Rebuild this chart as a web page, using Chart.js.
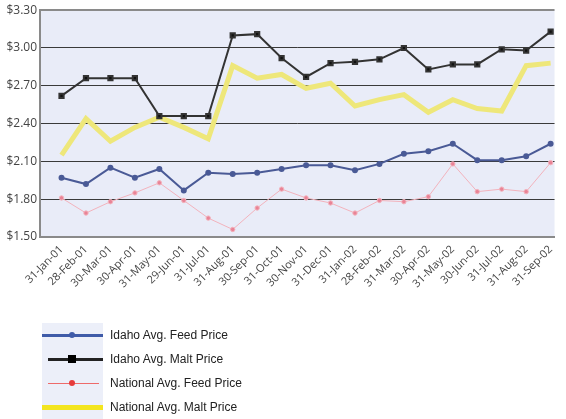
<!DOCTYPE html>
<html lang="en">
<head>
<meta charset="UTF-8">
<script src="https://cdn.jsdelivr.net/npm/chart.js@4.4.0/dist/chart.umd.min.js"></script>
<title>Barley prices</title>
<style>
  body { margin: 0; background: #fff; }
  #wrap { position: relative; width: 566px; height: 419px; }
  #legend { position: absolute; left: 42px; top: 323px; font-family: "Liberation Sans", Arial, sans-serif; font-size: 12px; color: #222; }
  .row { display: flex; align-items: center; height: 24px; }
  .sw { position: relative; width: 61px; height: 24px; background: #eceff9; }
  .sw .ln { position: absolute; top: 50%; }
  .sw .mk { position: absolute; top: 50%; left: 30px; }
  .lbl { margin-left: 7px; }
</style>
</head>
<body>
<div id="wrap">
  <canvas id="myChart" width="566" height="419"></canvas>
  <div id="legend"></div>
</div>
<script>
// month-end dates
var dates = ['31-Jan-01', '28-Feb-01', '30-Mar-01', '30-Apr-01', '31-May-01', '29-Jun-01',
  '31-Jul-01', '31-Aug-01', '30-Sep-01', '31-Oct-01', '30-Nov-01', '31-Dec-01',
  '31-Jan-02', '28-Feb-02', '31-Mar-02', '30-Apr-02', '31-May-02', '30-Jun-02',
  '31-Jul-02', '31-Aug-02', '31-Sep-02'];

var idahoFeed = [1.97, 1.92, 2.05, 1.97, 2.04, 1.87, 2.01, 2.00, 2.01, 2.04, 2.07, 2.07,
  2.03, 2.08, 2.16, 2.18, 2.24, 2.11, 2.11, 2.14, 2.24];
var idahoMalt = [2.62, 2.76, 2.76, 2.76, 2.46, 2.46, 2.46, 3.10, 3.11, 2.92, 2.77, 2.88,
  2.89, 2.91, 3.00, 2.83, 2.87, 2.87, 2.99, 2.98, 3.13];
var natFeed = [1.81, 1.69, 1.78, 1.85, 1.93, 1.79, 1.65, 1.56, 1.73, 1.88, 1.81, 1.77,
  1.69, 1.79, 1.78, 1.82, 2.08, 1.86, 1.88, 1.86, 2.09];
var natMalt = [2.15, 2.44, 2.26, 2.37, 2.45, 2.37, 2.28, 2.86, 2.76, 2.79, 2.68, 2.72,
  2.54, 2.59, 2.63, 2.49, 2.59, 2.52, 2.50, 2.86, 2.88];

var yTicks = [1.5, 1.8, 2.1, 2.4, 2.7, 3.0, 3.3];

function pts(arr) {
  return arr.map(function (v, i) { return { x: i, y: v }; });
}

// plot background
var bgPlugin = {
  id: 'bg',
  beforeDraw: function (chart) {
    var a = chart.chartArea, c = chart.ctx;
    c.save();
    c.fillStyle = '#e9ecf8';
    c.fillRect(a.left, a.top, a.right - a.left, a.bottom - a.top);
    c.restore();
  }
};

var ctx = document.getElementById('myChart').getContext('2d');
var myChart = new Chart(ctx, {
  type: 'line',
  data: {
    datasets: [{
      label: 'Idaho Avg. Feed Price',
      data: pts(idahoFeed),
      borderColor: '#4a5a96',
      backgroundColor: '#4a5a96',
      borderWidth: 2,
      pointRadius: 2,
      pointStyle: 'circle'
    }, {
      label: 'Idaho Avg. Malt Price',
      data: pts(idahoMalt),
      borderColor: '#333',
      backgroundColor: '#111',
      borderWidth: 2,
      pointRadius: 3,
      pointStyle: 'rect'
    }, {
      label: 'National Avg. Feed Price',
      data: pts(natFeed),
      borderColor: '#f3b3bd',
      backgroundColor: '#e98396',
      borderWidth: 1,
      pointRadius: 2.2,
      pointStyle: 'circle'
    }, {
      label: 'National Avg. Malt Price',
      data: pts(natMalt),
      borderColor: '#eee77a',
      borderWidth: 5,
      pointRadius: 0
    }]
  },
  options: {
    responsive: false,
    animation: false,
    layout: { padding: { top: -2, right: 0, left: 0, bottom: 0 } },
    plugins: { legend: { display: false }, tooltip: { enabled: false } },
    scales: {
      x: {
        type: 'linear',
        min: -0.88,
        max: 20.16,
        afterBuildTicks: function (axis) {
          axis.ticks = dates.map(function (d, i) { return { value: i }; });
        },
        afterFit: function (axis) { axis.height = 182; },
        grid: { display: true, drawOnChartArea: false, drawTicks: false },
        border: { display: true, color: '#8a8a8a', width: 2 },
        ticks: {
          autoSkip: false,
          minRotation: 45,
          maxRotation: 45,
          padding: 6,
          color: '#444',
          font: { family: 'Open Sans', size: 11 },
          callback: function (v) { return dates[v]; }
        }
      },
      y: {
        min: 1.5,
        max: 3.3,
        afterBuildTicks: function (axis) {
          axis.ticks = yTicks.map(function (v) { return { value: v }; });
        },
        afterFit: function (axis) { axis.width = 40; },
        grid: {
          drawTicks: false,
          color: function (c) { return (c.tick && (c.tick.value === 3.3 || c.tick.value === 1.5)) ? '#8a8a8a' : '#3a3a3a'; },
          lineWidth: function (c) { return (c.tick && (c.tick.value === 3.3 || c.tick.value === 1.5)) ? 2 : 1; }
        },
        border: { display: true, color: '#8a8a8a', width: 2 },
        ticks: {
          padding: 3,
          color: '#444',
          font: { family: 'Open Sans', size: 12 },
          callback: function (v) { return '$' + v.toFixed(2); }
        }
      }
    }
  },
  plugins: [bgPlugin]
});

// html legend
var legendSpec = [
  { line: 'height:3px;left:0;right:0;margin-top:-1.5px;background:#3f5ba8', mk: 'width:6px;height:6px;border-radius:3px;margin:-3px 0 0 -3px;background:#3f5ba8' },
  { line: 'height:3px;left:6px;right:0;margin-top:-1.5px;background:#222', mk: 'width:8px;height:8px;margin:-4px 0 0 -4px;background:#000' },
  { line: 'height:1px;left:6px;right:4px;margin-top:-0.5px;background:#ee6a6a', mk: 'width:6px;height:6px;border-radius:3px;margin:-3px 0 0 -3px;background:#e63b3b' },
  { line: 'height:5px;left:0;right:0;margin-top:-2.5px;background:#f3e520', mk: 'display:none' }
];
var lg = document.getElementById('legend');
myChart.data.datasets.forEach(function (ds, i) {
  var s = legendSpec[i];
  var row = document.createElement('div');
  row.className = 'row';
  row.innerHTML = '<div class="sw"><div class="ln" style="' + s.line + '"></div><div class="mk" style="' + s.mk + '"></div></div><span class="lbl">' + ds.label + '</span>';
  lg.appendChild(row);
});
</script>
</body>
</html>
